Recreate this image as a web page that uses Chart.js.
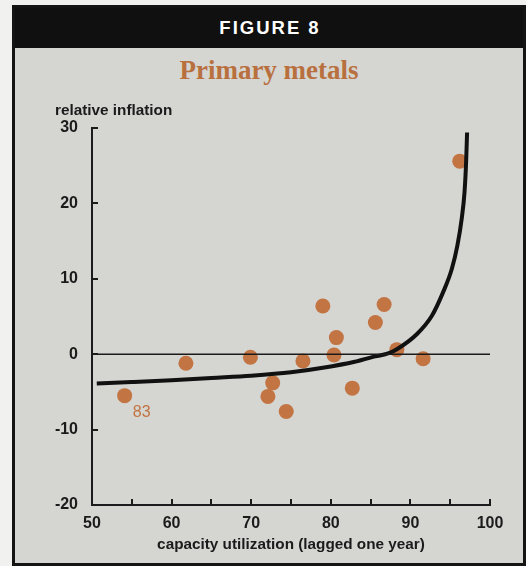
<!DOCTYPE html>
<html>
<head>
<meta charset="utf-8">
<title>Primary metals</title>
<script src="https://cdn.jsdelivr.net/npm/chart.js@4/dist/chart.umd.min.js"></script>
<style>
  html, body { margin: 0; padding: 0; background: #f1f1ef; width: 526px; height: 566px; overflow: hidden; }
  #frame { position: absolute; left: 12px; top: 5px; width: 508px; height: 555px;
           border: 3px solid #141414; background: #d5d5d2; }
  #head { position: absolute; left: 0; top: 0; right: 0; height: 40px; background: #101010;
          color: #ffffff; font: bold 18.5px 'Liberation Sans', Arial, sans-serif; letter-spacing: 2px;
          text-align: center; line-height: 40px; padding-left: 2px; box-sizing: border-box; }
  #title { position: absolute; left: 0; right: 0; top: 47px; text-align: center; line-height: 30px;
           font: bold 27px 'Liberation Serif', 'Times New Roman', serif; color: #b9703f; }
  #chart { position: absolute; left: 0; top: 0; }
</style>
</head>
<body>
<div id="frame">
  <div id="head">FIGURE 8</div>
  <div id="title">Primary metals</div>
</div>
<canvas id="chart" width="526" height="566"></canvas>
<script>
// Observed years: capacity utilization (lagged one year) vs. relative inflation
const utilization = [54.1, 61.8, 69.9, 76.5, 72.7, 72.1, 74.4, 79.0, 86.7, 85.6, 80.7, 80.4, 88.3, 91.6, 82.7, 96.2];
const inflation   = [-5.5, -1.2, -0.4, -0.9, -3.8, -5.6, -7.6,  6.4,  6.6,  4.2,  2.2, -0.1,  0.6, -0.6, -4.5, 25.6];
const pointLabels = ['83', '', '', '', '', '', '', '', '', '', '', '', '', '', '', ''];

// Fitted curve
const curveX = [50.6, 55, 60, 65, 70, 75, 79, 83, 85.3, 87.2, 88.3, 90.8, 92.7, 94.1, 95.2, 95.9, 96.45, 96.8, 97.0, 97.12];
const curveY = [-3.9, -3.7, -3.45, -3.15, -2.85, -2.4, -1.8, -1.0, -0.35, 0.1, 0.66, 2.65, 5.1, 8.2, 11.3, 14.4, 18.0, 21.5, 25.5, 29.4];

// Axes
const xRange = [50, 100];
const yRange = [-20, 30];
const xStep = 5;
const xLabelStep = 10;
const yStep = 10;

const SANS = "'Liberation Sans', Arial, Helvetica, sans-serif";
const INK = '#1b1b1b';
const DOT = '#c27442';

const points = utilization.map((x, i) => ({ x, y: inflation[i] }));
const curve = curveX.map((x, i) => ({ x, y: curveY[i] }));

// Zero reference line, inward tick marks, value labels and the y-axis caption
const decorations = {
  id: 'decorations',
  afterDatasetsDraw(chart) {
    const { ctx, chartArea: a, scales: { y } } = chart;
    ctx.save();
    const y0 = y.getPixelForValue(0);
    ctx.strokeStyle = INK;
    ctx.lineWidth = 1.5;
    ctx.beginPath();
    ctx.moveTo(a.left, y0);
    ctx.lineTo(a.right, y0);
    ctx.stroke();
    ctx.restore();
  },
  afterDraw(chart) {
    const { ctx, chartArea: a, scales: { x, y } } = chart;
    ctx.save();
    ctx.strokeStyle = INK;
    ctx.lineWidth = 2;
    ctx.beginPath();
    x.ticks.forEach(t => {
      const px = Math.round(x.getPixelForValue(t.value));
      ctx.moveTo(px, a.bottom);
      ctx.lineTo(px, a.bottom - 6);
    });
    y.ticks.forEach(t => {
      const py = Math.round(y.getPixelForValue(t.value));
      ctx.moveTo(a.left, py);
      ctx.lineTo(a.left + 6, py);
    });
    ctx.stroke();

    // point labels
    const meta = chart.getDatasetMeta(1);
    ctx.fillStyle = DOT;
    ctx.font = '16px ' + SANS;
    ctx.textAlign = 'center';
    ctx.textBaseline = 'middle';
    meta.data.forEach((el, i) => {
      if (pointLabels[i]) ctx.fillText(pointLabels[i], el.x + 17, el.y + 17);
    });

    // y-axis caption
    ctx.fillStyle = INK;
    ctx.font = 'bold 15.3px ' + SANS;
    ctx.textAlign = 'left';
    ctx.textBaseline = 'alphabetic';
    ctx.fillText('relative inflation', 55, 115);
    ctx.restore();
  }
};

new Chart(document.getElementById('chart'), {
  type: 'scatter',
  data: {
    datasets: [
      {
        type: 'line',
        data: curve,
        borderColor: '#111111',
        borderWidth: 4,
        pointRadius: 0,
        fill: false,
        cubicInterpolationMode: 'monotone',
        clip: false,
        order: 1
      },
      {
        data: points,
        backgroundColor: DOT,
        borderWidth: 0,
        pointRadius: 7.5,
        pointHoverRadius: 7.5,
        clip: false,
        order: 2
      }
    ]
  },
  options: {
    responsive: false,
    animation: false,
    events: [],
    layout: { padding: { left: 0, top: 128, right: 36, bottom: 0 } },
    plugins: { legend: { display: false }, tooltip: { enabled: false } },
    scales: {
      x: {
        type: 'linear',
        min: xRange[0],
        max: xRange[1],
        afterFit(s) { s.height = 61; },
        grid: { display: false, drawTicks: false },
        border: { display: true, color: INK, width: 2 },
        ticks: {
          stepSize: xStep,
          autoSkip: false,
          maxRotation: 0,
          padding: 9,
          color: INK,
          font: { family: SANS, size: 16, weight: 'bold' },
          callback: v => (v % xLabelStep === 0 ? String(v) : '')
        },
        title: {
          display: true,
          text: 'capacity utilization (lagged one year)',
          color: INK,
          font: { family: SANS, size: 15.3, weight: 'bold' },
          padding: { top: 0, bottom: 12 }
        }
      },
      y: {
        type: 'linear',
        min: yRange[0],
        max: yRange[1],
        afterFit(s) { s.width = 92; },
        grid: { display: false, drawTicks: false },
        border: { display: true, color: INK, width: 2 },
        ticks: {
          stepSize: yStep,
          padding: 14,
          color: INK,
          font: { family: SANS, size: 16, weight: 'bold' }
        }
      }
    }
  },
  plugins: [decorations]
});
</script>
</body>
</html>
